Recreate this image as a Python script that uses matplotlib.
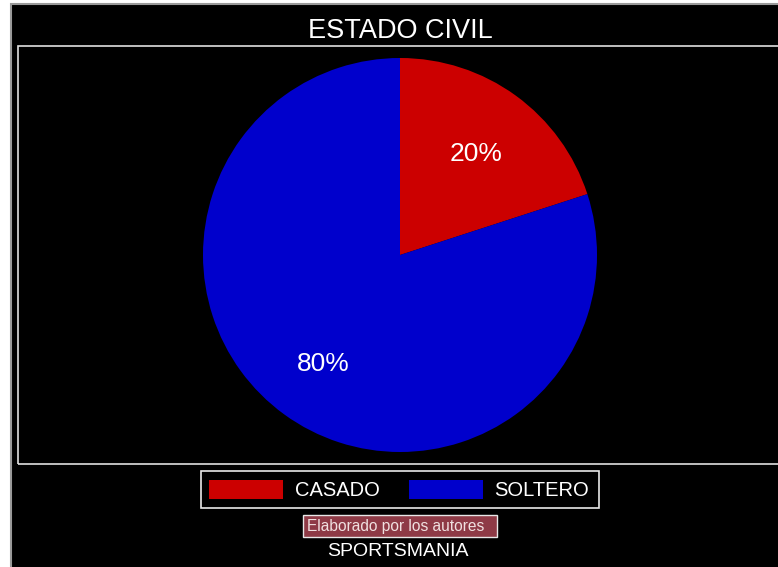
import matplotlib.pyplot as plt
from matplotlib.patches import Rectangle
from matplotlib.transforms import offset_copy

# data
labels = ['CASADO', 'SOLTERO']
values = [20, 80]
colors = ['#CC0000', '#0000CC']
title = 'ESTADO CIVIL'
source = 'Elaborado por los autores'
footer = 'SPORTSMANIA'

W, H = 778, 567
plt.rcParams['font.family'] = ['Liberation Sans', 'DejaVu Sans']

fig = plt.figure(figsize=(W / 100, H / 100), dpi=100, facecolor='white')


def px(x, y):
    # pixel coords (top-left origin) -> figure fraction
    return x / W, 1 - y / H


# black background panel with gray left/top edge
fig.patches.append(Rectangle(px(11, 600), 800 / W, 596 / H, transform=fig.transFigure,
                             facecolor='black', edgecolor='#9a9a9a', linewidth=1.5, zorder=0))
# inner plot frame
fig.patches.append(Rectangle(px(18, 464), 800 / W, (464 - 46) / H, transform=fig.transFigure,
                             facecolor='none', edgecolor='#e0e0e0', linewidth=1.2, zorder=1))

fig.text(*px(400, 31), title, color='white', fontsize=19.5, ha='center', va='center')

# pie
ax = fig.add_axes([203 / W, (H - 452) / H, 394 / W, 394 / H])
ax.set_zorder(5)
ax.set_facecolor('none')
wedges, texts, autotexts = ax.pie(values, colors=colors, startangle=90, counterclock=False,
                                  autopct='%1.0f%%', pctdistance=0.66, radius=1,
                                  wedgeprops=dict(linewidth=0))
for t in autotexts:
    t.set_color('white')
    t.set_fontsize(19)
    t.set_transform(offset_copy(ax.transData, fig=fig, x=0, y=-4, units='dots'))
ax.set_xlim(-1, 1)
ax.set_ylim(-1, 1)
ax.set_aspect('auto')
ax.axis('off')

# legend box
fig.patches.append(Rectangle(px(201, 508), 398 / W, 37 / H, transform=fig.transFigure,
                             facecolor='black', edgecolor='#e8e8e8', linewidth=1.2, zorder=2))
fig.patches.append(Rectangle(px(209, 499), 74 / W, 19 / H, transform=fig.transFigure,
                             facecolor=colors[0], edgecolor='none', zorder=3))
fig.patches.append(Rectangle(px(409, 499), 74 / W, 19 / H, transform=fig.transFigure,
                             facecolor=colors[1], edgecolor='none', zorder=3))
fig.text(*px(295, 491), labels[0], color='white', fontsize=14.5, ha='left', va='center', zorder=4)
fig.text(*px(494, 491), labels[1], color='white', fontsize=14.5, ha='left', va='center', zorder=4)

# source box
fig.patches.append(Rectangle(px(303, 537), 194 / W, 22 / H, transform=fig.transFigure,
                             facecolor='#8E3A46', edgecolor='#e8e8e8', linewidth=1, zorder=2))
fig.text(*px(307, 526), source, color='#f0e0e0', fontsize=11.2, ha='left', va='center', zorder=4)
fig.text(*px(398, 551), footer, color='white', fontsize=14, ha='center', va='center', zorder=4)

fig.savefig('out.png', dpi=100, facecolor='white')
